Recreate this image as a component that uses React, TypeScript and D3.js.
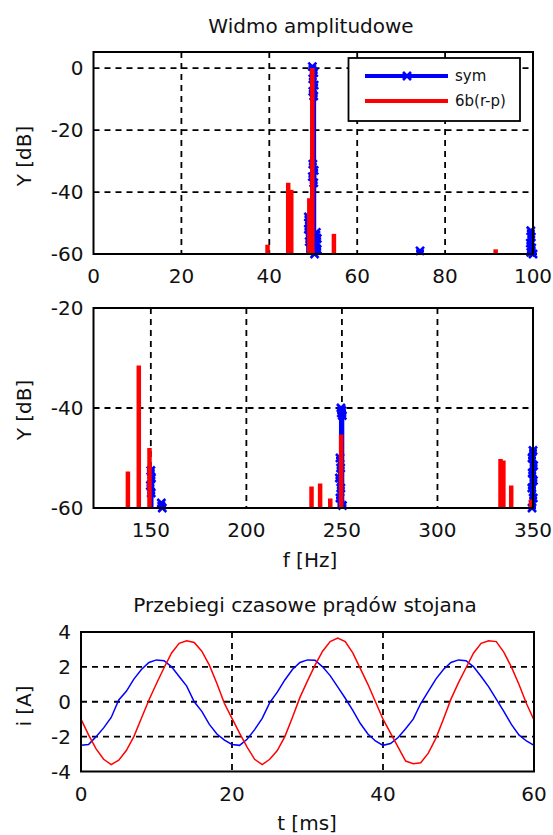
import * as d3 from 'd3';

const FONT = '"DejaVu Sans", Verdana, sans-serif';
const INK = '#111';

// --- widmo 0-100 Hz ---
const ticksF1 = [0, 20, 40, 60, 80, 100];
const ticksDb1 = [0, -20, -40, -60];
const gridF1 = [20, 40, 60, 80];
const gridDb1 = [0, -20, -40];
const symF1 = [49.8, 50.1, 49.9, 50.2, 49.9, 50.1, 49.9, 50.2, 49.8, 50.1, 48.9, 49.0, 48.9, 49.2, 49.1, 50.7, 50.9, 50.7, 50.9, 50.3, 74.3, 99.5, 99.6, 99.4, 99.7, 99.5, 100];
const symDb1 = [0.5, -1.5, -3.5, -5.5, -7.5, -9, -31, -33, -35, -37, -48, -50, -52, -54, -56, -53, -55, -57, -58.5, -60, -59, -52.5, -54.5, -56.5, -58, -59.5, -60];
const rpF1 = [39.6, 44.3, 45.0, 49.1, 49.8, 54.7, 91.5];
const rpDb1 = [-57, -37, -39.3, -42, 0, -53.5, -58.5];

// --- widmo 120-350 Hz ---
const ticksF2 = [150, 200, 250, 300, 350];
const ticksDb2 = [-20, -40, -60];
const gridF2 = [150, 200, 250, 300];
const gridDb2 = [-40];
const symF2 = [150, 150.3, 149.8, 150.2, 155.5, 156, 249.5, 250.0, 249.7, 250.2, 249, 249.3, 248.7, 249.4, 249.0, 250.3, 350, 349.5, 350.3, 349.6, 350.2, 349.4, 350.1, 349.5];
const symDb2 = [-52.5, -54, -55.5, -57, -59, -60, -40, -40.5, -41, -41.5, -50, -52, -54, -56, -58, -59.5, -48.5, -50, -51.5, -53, -54.5, -56, -58, -60];
const rpF2 = [138, 143.7, 149.3, 234.1, 238.6, 243.9, 249.6, 329, 333, 334.5, 338.6, 349];
const rpDb2 = [-52.7, -31.5, -48, -55.7, -55.1, -58.1, -45.3, -59.8, -50.2, -50.5, -55.5, -58.3];

// --- przebiegi czasowe ---
const ticksT = [0, 20, 40, 60];
const ticksI = [4, 2, 0, -2, -4];
const gridT = [20, 40];
const gridI = [2, 0, -2];
const timeMs = [0, 1, 2, 3, 4, 5, 6, 7, 8, 9, 10, 11, 12, 13, 14, 15, 16, 17, 18, 19, 20,
  21, 22, 23, 24, 25, 26, 27, 28, 29, 30, 31, 32, 33, 34, 35, 36, 37, 38, 39, 40,
  41, 42, 43, 44, 45, 46, 47, 48, 49, 50, 51, 52, 53, 54, 55, 56, 57, 58, 59, 60];
const iSym = [-2.5, -2.45, -2.0, -1.5, -0.9, 0.1, 0.6, 1.3, 1.85, 2.25, 2.4, 2.35, 2.0, 1.45, 0.9, 0.0, -0.55, -1.3, -1.85, -2.2, -2.45,
  -2.5, -2.15, -1.6, -0.95, -0.05, 0.55, 1.25, 1.85, 2.25, 2.4, 2.38, 2.0, 1.5, 0.85, 0.2, -0.5, -1.25, -1.85, -2.25, -2.5,
  -2.4, -2.05, -1.55, -1.0, -0.1, 0.6, 1.3, 1.85, 2.25, 2.4, 2.35, 2.0, 1.45, 0.85, 0.15, -0.55, -1.3, -1.9, -2.25, -2.5];
const iRp = [-1.0, -1.9, -2.7, -3.3, -3.6, -3.35, -2.8, -2.0, -0.95, 0.1, 1.05, 1.95, 2.8, 3.35, 3.5, 3.4, 2.9, 2.1, 1.05, -0.1, -0.95,
  -1.8, -2.6, -3.3, -3.6, -3.3, -2.8, -2.0, -0.9, 0.25, 1.2, 2.1, 2.9, 3.45, 3.65, 3.45, 2.8, 1.9, 1.0, 0.0, -1.0,
  -1.8, -2.6, -3.4, -3.55, -3.5, -2.95, -2.1, -1.0, 0.15, 1.1, 1.95, 2.8, 3.35, 3.5, 3.45, 2.85, 2.0, 1.0, -0.1, -1.05];

const BLUE = '#0000ff';
const RED = '#ff0000';

type Box = { l: number; r: number; t: number; b: number };

function Frame({ box, x, y, gx, gy, tx, ty }: any) {
  const dash = '6,5';
  return (
    <g>
      {gx.map((v: number) => (
        <line key={'gx' + v} x1={x(v)} x2={x(v)} y1={box.t} y2={box.b} stroke="#000" strokeWidth={1.8} strokeDasharray={dash} />
      ))}
      {gy.map((v: number) => (
        <line key={'gy' + v} x1={box.l} x2={box.r} y1={y(v)} y2={y(v)} stroke="#000" strokeWidth={1.8} strokeDasharray={dash} />
      ))}
      {tx.map((v: number) => (
        <text key={'tx' + v} x={x(v)} y={box.b + 29} textAnchor="middle" fontSize={20} fill={INK}>{v}</text>
      ))}
      {ty.map((v: number) => (
        <text key={'ty' + v} x={box.l - 10} y={y(v) + 7} textAnchor="end" fontSize={20} fill={INK}>{v}</text>
      ))}
    </g>
  );
}

function Border({ box }: { box: Box }) {
  return <rect x={box.l} y={box.t} width={box.r - box.l} height={box.b - box.t} fill="none" stroke="#000" strokeWidth={2} />;
}

function Cross({ cx, cy, s = 4 }: { cx: number; cy: number; s?: number }) {
  return (
    <path d={`M${cx - s},${cy - s}L${cx + s},${cy + s}M${cx - s},${cy + s}L${cx + s},${cy - s}M${cx - s},${cy}L${cx + s},${cy}`}
      stroke={BLUE} strokeWidth={2.6} fill="none" />
  );
}

function Spectrum({ box, fDomain, dbDomain, symF, symDb, rpF, rpDb, gx, gy, tx, ty }: any) {
  const x = d3.scaleLinear().domain(fDomain).range([box.l, box.r]);
  const y = d3.scaleLinear().domain(dbDomain).range([box.b, box.t]);
  const base = y(dbDomain[0]);
  return (
    <g>
      <Frame box={box} x={x} y={y} gx={gx} gy={gy} tx={tx} ty={ty} />
      {symF.map((f: number, i: number) => (
        <line key={'sl' + i} x1={x(f)} x2={x(f)} y1={y(symDb[i])} y2={base} stroke={BLUE} strokeWidth={4} />
      ))}
      {symF.map((f: number, i: number) => (
        <Cross key={'sm' + i} cx={x(f)} cy={y(symDb[i])} />
      ))}
      {rpF.map((f: number, i: number) => (
        <line key={'r' + i} x1={x(f)} x2={x(f)} y1={y(rpDb[i])} y2={base} stroke={RED} strokeWidth={4.5} />
      ))}
      <Border box={box} />
    </g>
  );
}

export default function App() {
  const box1: Box = { l: 93.5, r: 533, t: 52, b: 254 };
  const box2: Box = { l: 93.5, r: 533, t: 308, b: 508 };
  const box3: Box = { l: 81, r: 534, t: 632, b: 771.5 };

  const xT = d3.scaleLinear().domain([0, 60]).range([box3.l, box3.r]);
  const yI = d3.scaleLinear().domain([-4, 4]).range([box3.b, box3.t]);
  const line = d3.line<number>().x((_, i) => xT(timeMs[i])).y((v) => yI(v));

  const leg = { l: 348.5, r: 520, t: 58, b: 121 };

  return (
    <svg width={553} height={835} style={{ position: 'absolute', left: 0, top: 0, background: '#fff' }} fontFamily={FONT}>
      <rect width={553} height={835} fill="#fff" />

      <text x={311} y={33} textAnchor="middle" fontSize={20} fill={INK}>Widmo amplitudowe</text>
      <Spectrum box={box1} fDomain={[0, 100]} dbDomain={[-60, 5.2]} symF={symF1} symDb={symDb1} rpF={rpF1} rpDb={rpDb1}
        gx={gridF1} gy={gridDb1} tx={ticksF1} ty={ticksDb1} />
      <text transform={`translate(31,156) rotate(-90)`} textAnchor="middle" fontSize={20} fill={INK}>Y [dB]</text>

      <g>
        <rect x={leg.l} y={leg.t} width={leg.r - leg.l} height={leg.b - leg.t} fill="#fff" stroke="#000" strokeWidth={1.8} />
        <line x1={365} x2={448} y1={76} y2={76} stroke={BLUE} strokeWidth={4} />
        <Cross cx={407} cy={76} />
        <text x={455} y={81} fontSize={15} fill={INK}>sym</text>
        <line x1={365} x2={448} y1={101} y2={101} stroke={RED} strokeWidth={4} />
        <text x={455} y={106} fontSize={15} fill={INK}>6b(r-p)</text>
      </g>

      <Spectrum box={box2} fDomain={[120, 350]} dbDomain={[-60, -20]} symF={symF2} symDb={symDb2} rpF={rpF2} rpDb={rpDb2}
        gx={gridF2} gy={gridDb2} tx={ticksF2} ty={ticksDb2} />
      <text transform={`translate(31,410) rotate(-90)`} textAnchor="middle" fontSize={20} fill={INK}>Y [dB]</text>
      <text x={310} y={567} textAnchor="middle" fontSize={20} fill={INK}>f [Hz]</text>

      <text x={305} y={612} textAnchor="middle" fontSize={20} fill={INK}>Przebiegi czasowe prądów stojana</text>
      <Frame box={box3} x={xT} y={yI} gx={gridT} gy={gridI} tx={ticksT} ty={ticksI} />
      <path d={line(iSym) || ''} fill="none" stroke={BLUE} strokeWidth={1.5} />
      <path d={line(iRp) || ''} fill="none" stroke={RED} strokeWidth={1.5} />
      <Border box={box3} />
      <text transform={`translate(31,706) rotate(-90)`} textAnchor="middle" fontSize={20} fill={INK}>i [A]</text>
      <text x={307} y={830} textAnchor="middle" fontSize={20} fill={INK}>t [ms]</text>
    </svg>
  );
}
